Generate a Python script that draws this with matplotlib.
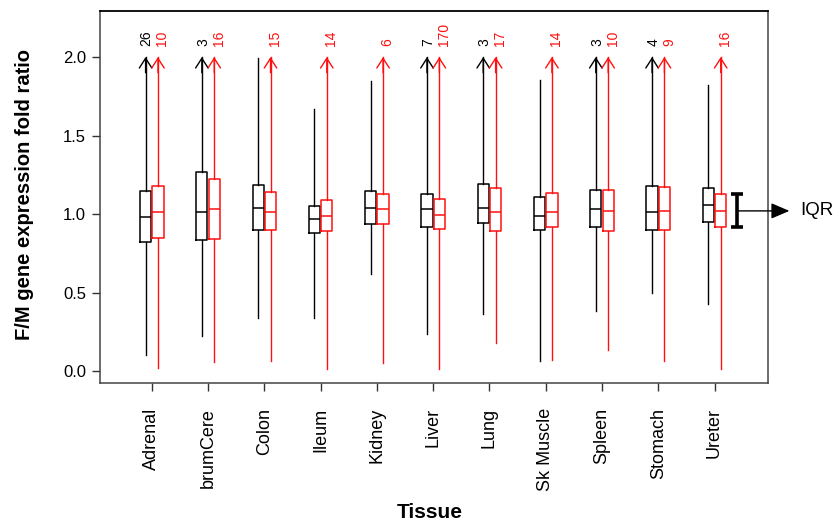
import matplotlib
matplotlib.use('Agg')
import matplotlib.pyplot as plt

# ---- data ----
tissues = ['Adrenal', 'brumCere', 'Colon', 'Ileum', 'Kidney', 'Liver',
           'Lung', 'Sk Muscle', 'Spleen', 'Stomach', 'Ureter']

# black series
blk_lo  = [0.10, 0.225, 0.34, 0.34, 0.62, 0.235, 0.365, 0.065, 0.38, 0.50, 0.43]
blk_q1  = [0.82, 0.835, 0.90, 0.88, 0.935, 0.92, 0.945, 0.90, 0.915, 0.90, 0.95]
blk_med = [0.98, 1.01, 1.04, 0.97, 1.04, 1.03, 1.04, 0.99, 1.035, 1.015, 1.06]
blk_q3  = [1.145, 1.265, 1.185, 1.05, 1.145, 1.13, 1.19, 1.11, 1.155, 1.18, 1.165]
blk_hi  = [2.0, 2.0, 1.995, 1.667, 1.85, 2.0, 2.0, 1.853, 2.0, 2.0, 1.822]
blk_over = [26, 3, 0, 0, 0, 7, 3, 0, 3, 4, 0]   # counts beyond 2.0 (0 = none)

# red series
red_lo  = [0.02, 0.06, 0.065, 0.015, 0.05, 0.015, 0.18, 0.07, 0.135, 0.065, 0.015]
red_q1  = [0.845, 0.84, 0.90, 0.895, 0.935, 0.905, 0.895, 0.915, 0.89, 0.90, 0.915]
red_med = [1.015, 1.03, 1.015, 0.99, 1.03, 0.995, 1.01, 1.015, 1.02, 1.02, 1.02]
red_q3  = [1.18, 1.225, 1.14, 1.09, 1.125, 1.095, 1.165, 1.135, 1.15, 1.17, 1.125]
red_hi  = [2.0, 2.0, 2.0, 2.0, 2.0, 2.0, 2.0, 2.0, 2.0, 2.0, 2.0]
red_over = [10, 16, 15, 14, 6, 170, 17, 14, 10, 9, 16]

yticks = [0.0, 0.5, 1.0, 1.5, 2.0]
ytick_labels = ['0.0', '0.5', '1.0', '1.5', '2.0']

plt.rcParams['font.family'] = ['Liberation Sans', 'DejaVu Sans']

fig = plt.figure(figsize=(8.37, 5.26), dpi=100)
ax = fig.add_axes([100/837, 1-383/526, 668/837, 372/526])

positions = list(range(1, len(tissues) + 1))
off = 0.11
bw = 0.2


def make_stats(lo, q1, med, q3, hi):
    return [dict(whislo=a, q1=b, med=c, q3=d, whishi=e, fliers=[])
            for a, b, c, d, e in zip(lo, q1, med, q3, hi)]


for lo, q1, med, q3, hi, over, col, sgn, loff in [
        (blk_lo, blk_q1, blk_med, blk_q3, blk_hi, blk_over, 'black', -1, 0.02),
        (red_lo, red_q1, red_med, red_q3, red_hi, red_over, '#ff1010', 1, 0.08)]:
    pos = [p + sgn * off for p in positions]
    ax.bxp(make_stats(lo, q1, med, q3, hi), positions=pos, widths=bw,
           showfliers=False, showcaps=False, manage_ticks=False,
           boxprops=dict(color=col, lw=1.1),
           medianprops=dict(color=col, lw=1.1),
           whiskerprops=dict(color=col, lw=1.0))
    for x, n, h in zip(pos, over, hi):
        if n > 0:
            ax.annotate('', xy=(x, h), xytext=(x, h - 0.1),
                        arrowprops=dict(arrowstyle='->,head_length=0.7,head_width=0.45',
                                        color=col, lw=1.0, shrinkA=0, shrinkB=0))
            ax.text(x + loff, 2.07, str(n), rotation=90, rotation_mode='anchor',
                    ha='left', va='center', color=col, fontsize=10)

# IQR annotation beside the last red box
ix = 11.40
iq1, iq3 = red_q1[-1], red_q3[-1]
ax.plot([ix, ix], [iq1, iq3], color='black', lw=2.6, solid_capstyle='butt')
ax.plot([ix - 0.11, ix + 0.11], [iq1, iq1], color='black', lw=2.6, solid_capstyle='butt')
ax.plot([ix - 0.11, ix + 0.11], [iq3, iq3], color='black', lw=2.6, solid_capstyle='butt')
ymid = (iq1 + iq3) / 2
ax.annotate('', xy=(12.33, ymid), xytext=(ix, ymid), annotation_clip=False,
            arrowprops=dict(arrowstyle='-|>,head_length=0.7,head_width=0.3',
                            color='black', lw=1.0, shrinkA=0, shrinkB=0,
                            mutation_scale=16))
ax.text(12.52, ymid, 'IQR', ha='left', va='center', fontsize=13.5, clip_on=False)

ax.set_xlim(0.08, 11.95)
ax.set_ylim(-0.076, 2.293)
ax.set_xticks(positions)
ax.set_xticklabels(tissues, rotation=90, fontsize=13, va='top')
ax.set_yticks(yticks)
ax.set_yticklabels(ytick_labels, fontsize=12)
ax.tick_params(axis='x', length=6, width=1, pad=12, color='#333')
ax.tick_params(axis='y', length=6, width=1, pad=4, color='#333')
for s in ['left', 'bottom', 'right']:
    ax.spines[s].set_color('#444')
    ax.spines[s].set_linewidth(1.1)
ax.spines['top'].set_color('black')
ax.spines['top'].set_linewidth(1.3)

fig.text(25/837, 1-195/526, 'F/M gene expression fold ratio', rotation=90,
         ha='center', va='center', fontsize=14.5, fontweight='bold')
fig.text(430/837, 1-512/526, 'Tissue', ha='center', va='center',
         fontsize=15, fontweight='bold')

fig.savefig('out.png', dpi=100)
